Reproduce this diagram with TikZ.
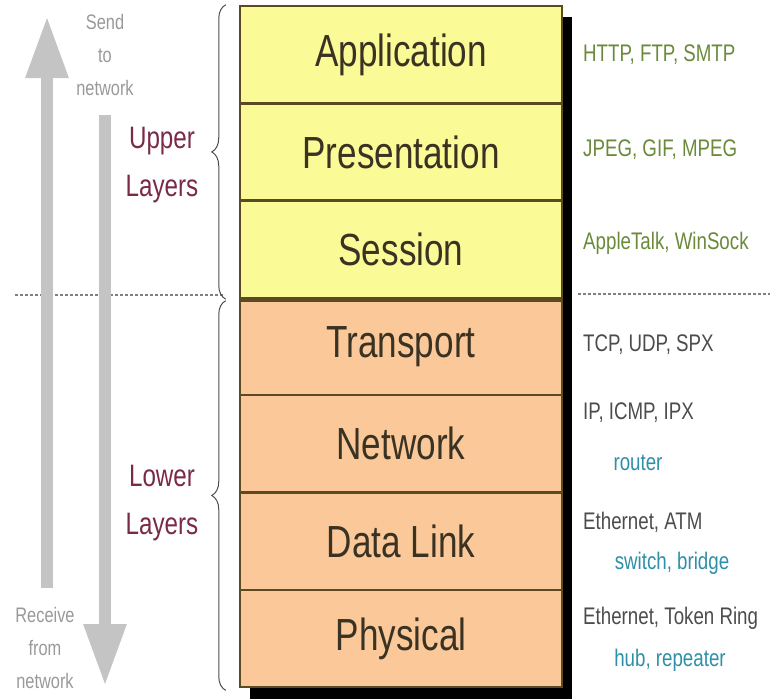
\documentclass[tikz,border=0pt]{standalone}
\usepackage{fontspec}
\setmainfont{Liberation Sans}[FakeStretch=0.78]
\usetikzlibrary{arrows.meta, positioning, decorations.pathreplacing}

\definecolor{upperfill}{HTML}{FAFA96}
\definecolor{lowerfill}{HTML}{FAC899}
\definecolor{sepline}{HTML}{5C4A22}
\definecolor{layertext}{HTML}{3A3222}
\definecolor{groupred}{HTML}{7A2A48}
\definecolor{protogreen}{HTML}{6A8A3A}
\definecolor{protogray}{HTML}{4C4C4C}
\definecolor{devteal}{HTML}{2F8FA8}
\definecolor{arrowgray}{HTML}{C4C4C4}

\tikzset{
  layer/.style={draw=sepline, line width=2.5pt, minimum width=322pt, minimum height=97.3pt,
    inner sep=0pt, text=layertext, font=\fontsize{45}{45}\selectfont},
  proto/.style={anchor=west, inner sep=0pt, font=\fontsize{24}{24}\selectfont},
  device/.style={inner sep=0pt, text=devteal, font=\fontsize{24}{24}\selectfont},
  group/.style={align=center, inner sep=0pt, text=groupred, font=\fontsize{31}{48}\selectfont},
  hint/.style={align=center, inner sep=0pt, text=black!40, font=\fontsize{21}{33}\selectfont},
  flowarrow/.style={draw=arrowgray, line width=12pt, -{Triangle[width=40pt,length=62pt]}},
  layerbrace/.style={draw=black!70, line width=1pt, decorate, decoration={brace, amplitude=14pt}},
  divider/.style={draw=black!50, line width=1.2pt, dash pattern=on 3pt off 2pt}
}

\begin{document}
\begin{tikzpicture}[x=1pt, y=-1pt]
\useasboundingbox (0,0) rectangle (778,699);
% shadow behind the stack
\fill [black] (250,17) rectangle (572,699);
% the seven layers
\foreach \name/\label/\fillc [count=\i] in {app/Application/upperfill, pres/Presentation/upperfill,
    sess/Session/upperfill, trans/Transport/lowerfill, net/Network/lowerfill,
    link/Data Link/lowerfill, phys/Physical/lowerfill}
  \node [layer, fill=\fillc] (\name) at (401,{6+97.3*(\i-0.5)}) {\label};
\draw [sepline, line width=5pt] (sess.south west) -- (sess.south east);

% protocols and devices
\node [proto, text=protogreen] (papp) at (583,55) {HTTP, FTP, SMTP};
\node [proto, text=protogreen] (ppres) at (583,150) {JPEG, GIF, MPEG};
\node [proto, text=protogreen] (psess) at (583,243) {AppleTalk, WinSock};
\node [proto, text=protogray] (ptrans) at (583,345) {TCP, UDP, SPX};
\node [proto, text=protogray] (pnet) at (583,413) {IP, ICMP, IPX};
\node [device] (dnet) at (638,463) {router};
\node [proto, text=protogray] (plink) at (583,522) {Ethernet, ATM};
\node [device] (dlink) at (672,563) {switch, bridge};
\node [proto, text=protogray] (pphys) at (583,618) {Ethernet, Token Ring};
\node [device] (dphys) at (670,660) {hub, repeater};

% upper / lower split
\coordinate (divla) at (15,295);
\coordinate (divlb) at (225,295);
\coordinate (divra) at (578,294);
\coordinate (divrb) at (770,294);
\draw [divider] (divla) -- (divlb);
\draw [divider] (divra) -- (divrb);
\draw [layerbrace] ([xshift=-13pt]sess.south west) -- ([xshift=-13pt]app.north west);
\draw [layerbrace] ([xshift=-13pt,yshift=-2pt]phys.south west) -- ([xshift=-13pt,yshift=-4pt]trans.north west);
\node [group] (upper) at (162,165) {Upper\\Layers};
\node [group] (lower) at (162,503) {Lower\\Layers};

% send and receive
\coordinate (sendtail) at (47,588);
\coordinate (sendtip) at (47,16);
\coordinate (recvtail) at (105,115);
\coordinate (recvtip) at (105,686);
\draw [flowarrow] (sendtail) -- (sendtip);
\draw [flowarrow] (recvtail) -- (recvtip);
\node [hint] (send) at (105,55) {Send\\to\\network};
\node [hint] (recv) at (45,648) {Receive\\from\\network};
\end{tikzpicture}
\end{document}
